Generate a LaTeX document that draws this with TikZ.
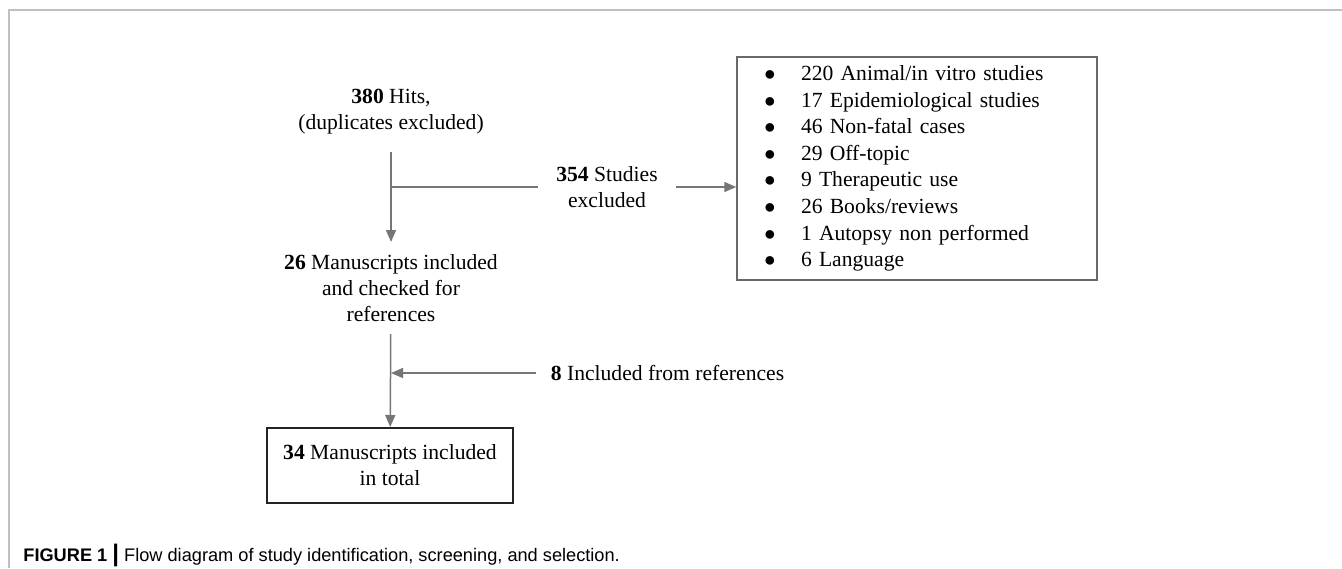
\documentclass[tikz,border=0pt]{standalone}
\usepackage{fontspec}
\setmainfont{Liberation Serif}
\setsansfont{Liberation Sans}
\usepackage{xcolor}
\usepackage{tikz}
\usetikzlibrary{arrows.meta, calc}
\definecolor{fluxgray}{RGB}{118,118,118}
\definecolor{moldura}{RGB}{192,192,192}
\definecolor{caixagray}{RGB}{105,105,105}
\definecolor{caixadark}{RGB}{35,35,35}
\newcommand{\marca}{\makebox[18pt][l]{\hspace{-0.6pt}{\fontsize{10}{12}\selectfont ●}}}

\begin{document}
\begin{tikzpicture}[
        x=0.5pt, y=-0.5pt,
        font=\fontsize{10.8}{13}\selectfont,
        texto/.style={align=center,inner xsep=4pt,inner ysep=6pt},
        lista/.style={draw=caixagray,line width=0.75pt,minimum width=180pt,minimum height=111.5pt,
            inner xsep=14pt,text width=152pt,align=left,font=\fontsize{10.8}{13.33}\selectfont},
        caixa/.style={draw=caixadark,line width=1pt,minimum width=123pt,minimum height=37.5pt,align=center},
        fluxo/.style={-{Triangle[length=6pt,width=5pt]},fluxgray,line width=0.75pt},
        linha/.style={fluxgray,line width=0.75pt}
    ]
        \useasboundingbox (0,0) rectangle (1342,568);
        \draw[moldura,line width=1pt] (9,568) -- (9,10) -- (1342,10);

        \node[texto,inner ysep=8.5pt] (hits) at (391,112) {\textbf{380} Hits,\\(duplicates excluded)};
        \node[texto] (manu) at (391,288) {\textbf{26} Manuscripts included\\and checked for\\references};
        \node[caixa] (total) at (390,465.5) {\textbf{34} Manuscripts included\\in total};
        \node[texto,inner xsep=9pt] (studies) at (607,187) {\textbf{354} Studies\\excluded};
        \node[lista] (excl) at (917,168.5) {%
            \marca 220 Animal/in vitro studies\\
            \marca 17 Epidemiological studies\\
            \marca 46 Non-fatal cases\\
            \marca 29 Off-topic\\
            \marca 9 Therapeutic use\\
            \marca 26 Books/reviews\\
            \marca 1 Autopsy non performed\\
            \marca 6 Language};
        \node[texto,inner xsep=7pt] (incl) at (667.5,373) {\textbf{8} Included from references};
        \node[anchor=base west,inner sep=0pt,font=\sffamily\fontsize{9.1}{11}\selectfont] (legenda) at (23,561)
            {\textbf{FIGURE 1 {\large|}} Flow diagram of study identification, screening, and selection.};

        \coordinate (split) at (hits.south |- studies.west);
        \draw[fluxo] (hits) -- (manu);
        \draw[linha] (split) -- (studies.west);
        \draw[fluxo] (studies.east) -- (excl.west |- studies.east);
        \draw[fluxo] (manu) -- (total);
        \draw[fluxo] (incl.west) -- (manu.south |- incl.west);
    \end{tikzpicture}
\end{document}
